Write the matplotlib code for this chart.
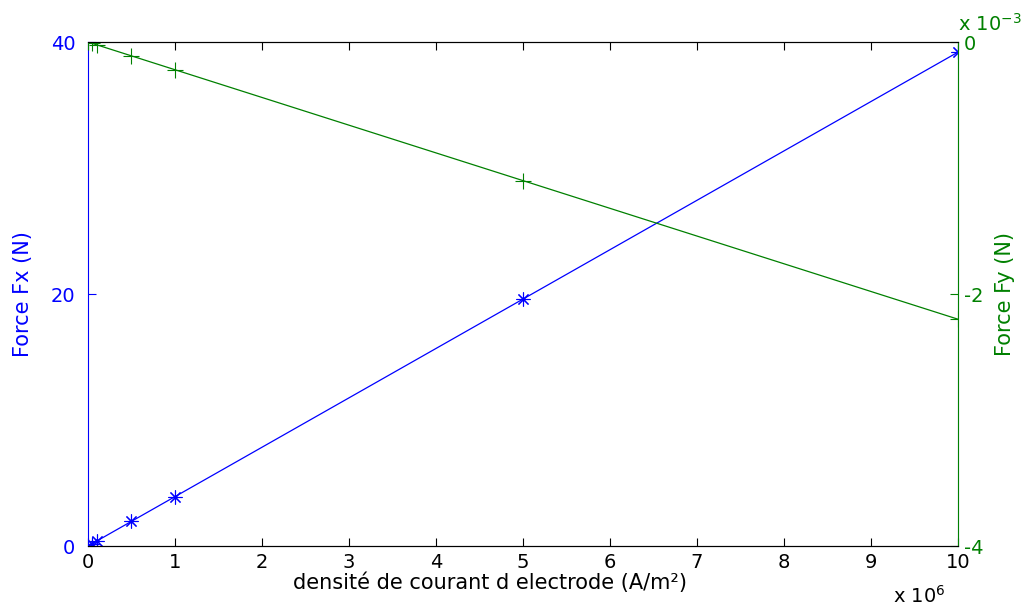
import matplotlib
matplotlib.use('Agg')
import matplotlib.pyplot as plt
from matplotlib.ticker import FuncFormatter

plt.rcParams['font.family'] = ['DejaVu Sans']

# current density (A/m2) and resulting forces
density = [0, 0.05e6, 0.1e6, 0.5e6, 1e6, 5e6, 10e6]
force_fx = [0, 0.196, 0.392, 1.96, 3.92, 19.6, 39.2]
force_fy = [0, -0.011e-3, -0.022e-3, -0.11e-3, -0.22e-3, -1.1e-3, -2.2e-3]

BLUE = (0, 0, 1)
GREEN = (0, 0.5, 0)

fig = plt.figure(figsize=(10.23, 6.09), dpi=100)
ax1 = fig.add_axes([0.086, 0.1034, 0.8505, 0.8276])
ax2 = ax1.twinx()

ax1.plot(density, force_fx, color=BLUE, marker=(8, 2, 0), markersize=10, linewidth=0.9, markeredgewidth=0.8)
ax2.plot(density, force_fy, color=GREEN, marker='+', markersize=11, linewidth=0.9, markeredgewidth=0.8)

ax1.set_xlim(0, 10e6)
ax1.set_ylim(0, 40)
ax2.set_ylim(-4e-3, 0)
ax1.set_xticks(range(0, 11 * 10**6, 10**6))
ax1.set_yticks([0, 20, 40])
ax2.set_yticks([-4e-3, -2e-3, 0])

ax1.xaxis.set_major_formatter(FuncFormatter(lambda v, p: '%g' % (v / 1e6)))
ax2.yaxis.set_major_formatter(FuncFormatter(lambda v, p: '%g' % round(v / 1e-3, 6)))

ax1.tick_params(axis='x', direction='in', top=True, length=6, colors='black', labelsize=14, pad=5)
ax1.tick_params(axis='y', direction='in', length=6, colors=BLUE, labelsize=14, pad=9)
ax2.tick_params(axis='y', direction='in', length=6, colors=GREEN, labelsize=14, pad=4)

ax1.spines['left'].set_color(BLUE)
ax1.spines['right'].set_color((0.6, 0.7, 0.9))
ax2.spines['right'].set_color(GREEN)
ax2.spines['left'].set_visible(False)
for ax in (ax1, ax2):
    ax.spines['top'].set_color('black')
    ax.spines['bottom'].set_color('black')

ax1.set_xlabel('densité de courant d electrode (A/m²)', fontsize=15)
ax1.xaxis.set_label_coords(0.462, -0.052)
ax1.xaxis.label.set_va('top')
ax1.set_ylabel('Force Fx (N)', color=BLUE, fontsize=15)
ax1.yaxis.set_label_coords(-0.063, 0.5)
ax2.set_ylabel('Force Fy (N)', color=GREEN, fontsize=15)
ax2.yaxis.set_label_coords(1.042, 0.5)

ax2.text(1.0, 1.022, r'x 10$^{-3}$', transform=ax2.transAxes, color=GREEN, fontsize=14, ha='left', va='baseline')
ax1.text(0.925, -0.113, r'x 10$^{6}$', transform=ax1.transAxes, color='black', fontsize=14, ha='left', va='baseline')

fig.savefig('out.png', dpi=100)
